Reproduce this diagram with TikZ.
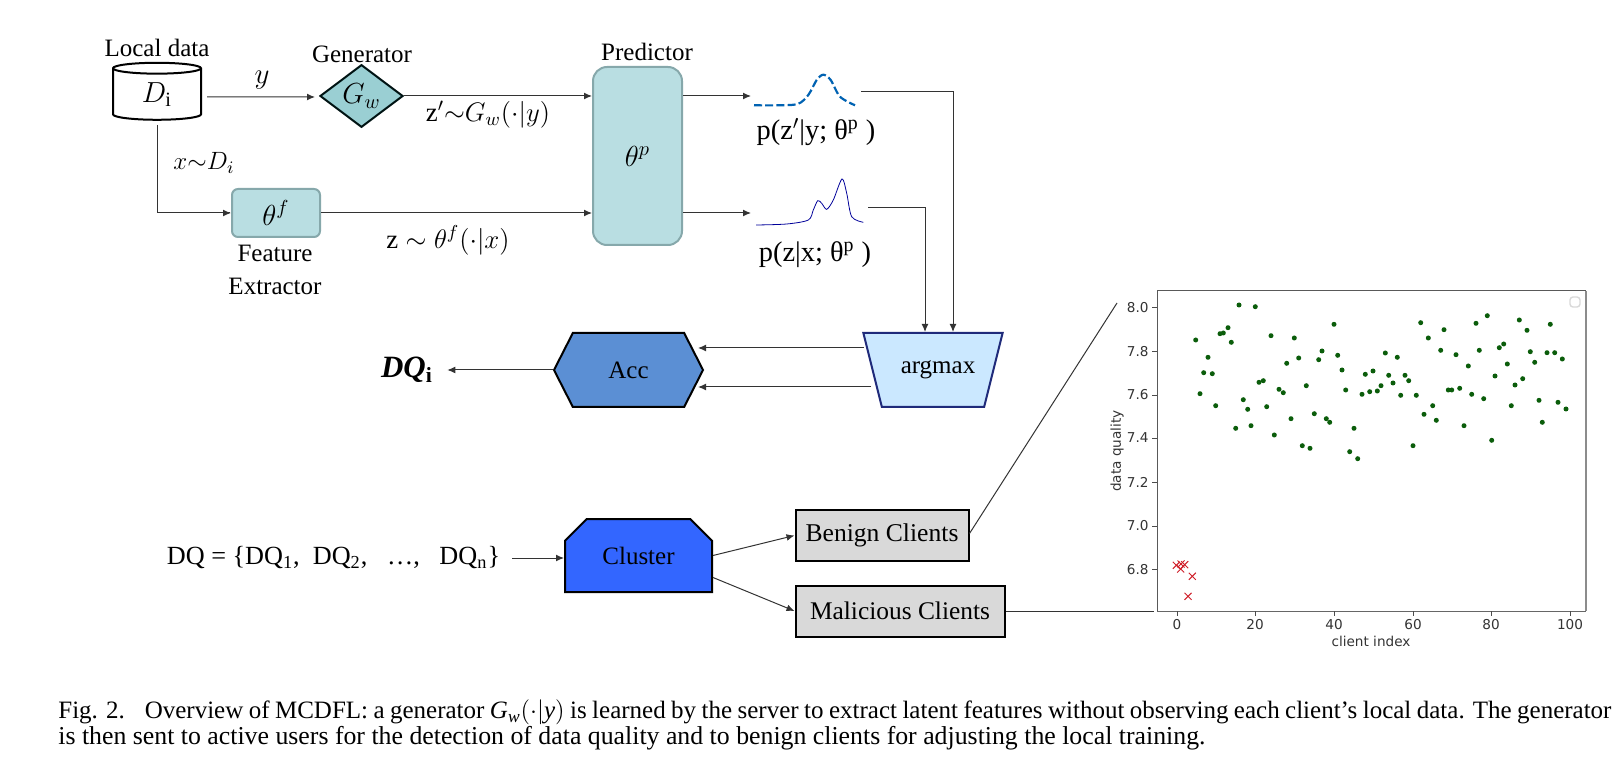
\documentclass[tikz,border=0pt]{standalone}
\usepackage{fix-cm}
\usepackage{amsmath}
\usepackage{fontspec}
\setmainfont{Liberation Serif}
\newfontfamily\plotfont{DejaVu Sans}
\usetikzlibrary{arrows.meta,shapes.geometric,shapes.misc,shapes.symbols}
\definecolor{tealdark}{HTML}{9ACFD3}
\definecolor{teallight}{HTML}{B9DEE2}
\definecolor{tealedge}{HTML}{86A8AB}
\definecolor{accblue}{HTML}{5B8FD4}
\definecolor{maxblue}{HTML}{CBE8FF}
\definecolor{maxedge}{HTML}{1F2A7A}
\definecolor{clusterblue}{HTML}{3366FF}
\definecolor{clientgrey}{HTML}{D9D9D9}
\definecolor{dotgreen}{HTML}{0B5D0B}
\definecolor{crossred}{HTML}{D0202A}
\tikzset{
    conn/.style={draw=black!80, line width=0.5pt, -{Latex[length=4pt,width=3.4pt]}},
    wire/.style={draw=black!80, line width=0.5pt},
    lbl/.style={inner sep=0pt, font=\fontsize{12.5}{15}\selectfont},
    mathlbl/.style={inner sep=0pt, font=\fontsize{13.4}{15}\selectfont},
    biglbl/.style={inner sep=0pt, font=\fontsize{14.5}{16}\selectfont},
    distlbl/.style={inner sep=0pt, font=\fontsize{14.2}{16}\selectfont},
    tealbox/.style={draw=tealedge, line width=1pt, fill=teallight, inner sep=0pt},
    clientbox/.style={draw=black, line width=1pt, fill=clientgrey, inner sep=0pt, minimum height=25.5pt},
    tick/.style={draw=black!70, line width=0.4pt},
    ticklbl/.style={inner sep=0pt, text=black!80, font=\plotfont\fontsize{6.8}{8}\selectfont},
}
\begin{document}
\begin{tikzpicture}[x=0.5pt,y=-0.5pt]
    \useasboundingbox (0,0) rectangle (1624,770);
    % upper row
    \node[cylinder, shape border rotate=90, aspect=0.36, draw=black, line width=1pt, minimum width=44pt, minimum height=28.5pt, inner sep=0pt, biglbl] (data) at (157,94.5) {$D_{\mathrm{i}}$};
    \node[lbl] (datalbl) at (157,48) {Local data};
    \node[diamond, draw=black!85!teal, line width=1pt, fill=tealdark, minimum width=41.5pt, minimum height=25.5pt, inner sep=0pt, biglbl] (gen) at (361.5,96) {$G_w$};
    \node[lbl] (genlbl) at (362,54) {Generator};
    \node[tealbox, rounded corners=3pt, minimum width=44pt, minimum height=24pt, biglbl] (extractor) at (276,213) {$\theta^f$};
    \node[lbl, align=center] (extractorlbl) at (275,270) {Feature\\[1.5pt]Extractor};
    \node[tealbox, rounded corners=7pt, minimum width=44.5pt, minimum height=89pt, biglbl] (pred) at (637.5,156) {$\theta^p$};
    \node[lbl] (predlbl) at (647,52) {Predictor};
    \node[biglbl] (ylbl) at (262,80) {$y$};
    \node[lbl] (xlbl) at (204,163) {$x{\sim}D_i$};
    \node[mathlbl] (zplbl) at (488,115) {$\mathrm{z}'{\sim}G_w(\cdot|y)$};
    \node[mathlbl] (zlbl) at (448,240) {$\mathrm{z}\sim\theta^f(\cdot|x)$};
    % the two outputs of the predictor
    \coordinate (upin) at (751,96);
    \coordinate (upout) at (861,92);
    \coordinate (lowin) at (751,213);
    \coordinate (lowout) at (868,208);
    \draw[color=blue!45!cyan!70!black, line width=1.1pt, dash pattern=on 4pt off 1.6pt] plot[smooth] coordinates {(754,105.3) (776.7,105.3) (797.7,104) (808.3,95) (816.7,80) (823.3,74.7) (830.7,80) (840,96.7) (855,105.3)};
    \draw[color=blue!60!black, line width=0.4pt] plot[smooth] coordinates {(756,225) (786.7,224) (808.3,220) (813.3,210) (817.7,200.7) (821.7,203.3) (826.7,209.3) (833.3,200) (842,179) (846.7,193.3) (851.7,216.7) (863.3,222.3)};
    \node[distlbl] (uplbl) at (816,132) {p(z$'$|y; θ\textsuperscript{p} )};
    \node[distlbl] (lowlbl) at (815,255) {p(z|x; θ\textsuperscript{p} )};
    % middle row
    \node[trapezium, trapezium stretches=true, shape border rotate=180, trapezium left angle=50, trapezium right angle=50, draw=maxedge, line width=1pt, fill=maxblue, minimum width=70pt, minimum height=37pt, inner sep=0pt, lbl] (argmax) at (933,370) {\hspace{5pt}argmax};
    \node[signal, signal to=west and east, signal pointer angle=126, draw=black, line width=1pt, fill=accblue, minimum width=74.5pt, minimum height=37pt, inner sep=0pt, lbl] (acc) at (628.5,370) {Acc};
    \node[inner sep=0pt, font=\fontsize{15.5}{17}\selectfont] (dqi) at (407,370) {\textbf{\textit{DQ}}\textsubscript{\textbf{i}}};
    \coordinate (argup) at (864,348);
    \coordinate (arglow) at (871,387);
    \coordinate (accup) at (698,348);
    \coordinate (acclow) at (698,387);
    % lower row
    \node[inner sep=0pt, font=\fontsize{13.1}{15}\selectfont] (dqset) at (333.5,558) {DQ = \{DQ\textsubscript{1},\ \ DQ\textsubscript{2},\ \ \ …,\ \ \ DQ\textsubscript{n}\}};
    \node[chamfered rectangle, chamfered rectangle corners={north west,north east}, chamfered rectangle xsep=6pt, chamfered rectangle ysep=6.5pt, draw=black, line width=1pt, fill=clusterblue, minimum width=73.5pt, minimum height=36.5pt, inner sep=0pt, lbl] (cluster) at (638.5,555.5) {Cluster};
    \node[clientbox, minimum width=86.5pt, lbl, font=\fontsize{12.8}{15}\selectfont] (benign) at (882,535.5) {Benign Clients};
    \node[clientbox, minimum width=104.5pt, lbl, font=\fontsize{12.7}{15}\selectfont] (malicious) at (900,611) {Malicious Clients};
    \coordinate (plotup) at (1117,303);
    \coordinate (plotlow) at (1154,611);
    % connectors
    \draw[conn] ([xshift=2.5pt,yshift=-1.2pt]data.east) -- (315,97);
    \draw[wire] ([yshift=-2pt]data.south) |- (230,213) coordinate (elbow);
    \draw[conn] (elbow) -- (extractor.west);
    \draw[conn] (gen.east) -- (gen.east -| pred.west);
    \draw[conn] (extractor.east) -- (extractor.east -| pred.west);
    \draw[conn] (pred.east |- upin) -- (upin);
    \draw[conn] (pred.east |- lowin) -- (lowin);
    \draw[conn] (upout) -| (argmax.north -| 953,0);
    \draw[conn] (lowout) -| (argmax.north -| 925,0);
    \draw[conn] (argup) -- (accup);
    \draw[conn] (arglow) -- (acclow);
    \draw[conn, shorten >=7pt] (acc.west) -- (dqi.east);
    \draw[conn] ([xshift=6pt]dqset.east) -- (dqset.east -| cluster.west);
    \draw[conn] (cluster.east) -- (benign.west);
    \draw[conn] ([yshift=-11pt]cluster.east) -- (malicious.west);
    \draw[wire] ([yshift=1pt]benign.east) -- (plotup);
    \draw[wire] (malicious.east) -- (plotlow);
    % scatter plot
    \fill[white] (1157,291) rectangle (1586,611);
    \draw[color=black!65, line width=0.5pt] (1157,611) -- (1157,291) -- (1586,291);
    \draw[color=black!45, line width=0.9pt] (1586,291) -- (1586,611);
    \draw[color=black!60, line width=0.5pt] (1157,611) -- (1586,611);
    \draw[color=black!15, line width=0.7pt, rounded corners=1.5pt] (1570,297) rectangle (1580,307);
    \foreach \q/\py [count=\k] in {8.0/307.7, 7.8/351.7, 7.6/395, 7.4/438, 7.2/482.7, 7.0/526, 6.8/569.7} {
        \draw[tick] (1152,\py) -- (1157,\py);
        \node[ticklbl, anchor=east] (ytick\k) at (1149,\py) {\q};
    }
    \foreach \i/\px in {0/1177, 20/1255, 40/1334, 60/1413, 80/1491, 100/1570} {
        \draw[tick] (\px,611) -- (\px,616);
        \node[ticklbl] (xtick\i) at (\px,624.5) {\i};
    }
    \node[ticklbl] (xname) at (1371,641) {client index};
    \node[ticklbl, rotate=90] (yname) at (1117,451) {data quality};
    \foreach \px/\py in {1195.7/340, 1200/393.7, 1203.7/372.7, 1208/357.3, 1212.3/373.7, 1215.7/405.7, 1220/333.7, 1223.3/333, 1228/327.7, 1231.3/342.3, 1235.7/428.3, 1239/305, 1243.3/399.7, 1247.7/409.3, 1251/425.7, 1255.3/306.7, 1259/382.3, 1263.3/380.7, 1266.7/406.7, 1271/335.7, 1274.3/435, 1279/389.3, 1283.3/392.7, 1286.7/363.3, 1291/418.7, 1294.3/338, 1298.7/358, 1302.3/445.7, 1306.3/385.7, 1310/448.3, 1314.3/413.7, 1318.7/359.7, 1322/351, 1326.3/418.7, 1329.7/422.3, 1334/324.3, 1337.7/355.3, 1342/370, 1345.7/390, 1349.7/451.7, 1354/428.3, 1357.7/458.7, 1362/394.3, 1365.3/374.3, 1369.7/391.7, 1373/371, 1377.3/391, 1381/385.7, 1385.3/353, 1388.7/375.3, 1393/383, 1397.3/357.3, 1400.7/395.3, 1405/375.3, 1408.7/380.7, 1413/445.7, 1416.3/395.3, 1420.7/322.7, 1424/414.3, 1428.3/338, 1432.7/405.7, 1436.3/420.3, 1440.7/350.3, 1444/329.7, 1448.3/390, 1451.7/390, 1456/354.7, 1459.7/388.3, 1464/425.7, 1468.3/366, 1471.7/394.3, 1476/323.3, 1479.3/350.3, 1483.7/398.7, 1487.3/315.7, 1491.7/440.3, 1495/376, 1499.3/347.7, 1503.7/344, 1507.3/364, 1511.3/405.7, 1515/385, 1519.3/320, 1522.7/378.7, 1527/330.3, 1530.3/351.7, 1534.7/362.3, 1539/400.3, 1542.3/422.3, 1547/352.7, 1550.3/324.3, 1554.7/352.7, 1558/402.3, 1562.3/359, 1566/409} {
        \fill[dotgreen] (\px,\py) circle (2.5);
    }
    \foreach \px/\py in {1176.3/565.3, 1180.7/569, 1181/564, 1184.7/564.7, 1192.3/576.3, 1188/596.3} {
        \draw[crossred, line width=0.5pt] (\px-3.5,\py-3.5) -- (\px+3.5,\py+3.5) (\px-3.5,\py+3.5) -- (\px+3.5,\py-3.5);
    }
    % caption
    \node[anchor=west, align=left, inner sep=0pt, font=\fontsize{12.9}{13.3}\selectfont] (caption) at (58,725) {{\fontsize{12.5}{13.3}\selectfont\makebox[776.5pt][s]{Fig. 2.\hspace{0.8em}Overview of MCDFL: a generator $\mathit{G}_{\mathit{w}}(\cdot|\mathit{y})$ is learned by the server to extract latent features without observing each client's local data. The generator}}\\is then sent to active users for the detection of data quality and to benign clients for adjusting the local training.};
\end{tikzpicture}
\end{document}
